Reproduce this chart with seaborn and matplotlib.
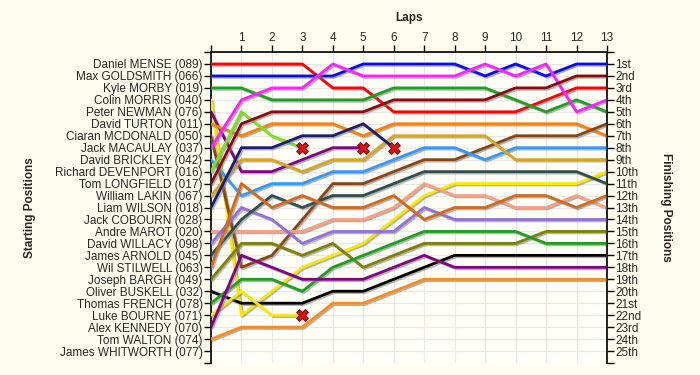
import numpy as np
import pandas as pd
import matplotlib
matplotlib.use("Agg")
import matplotlib.pyplot as plt
import matplotlib.patheffects as pe
import seaborn as sns

# --- Data: starting grid (position order) ---
starters = [
    "Daniel MENSE (089)", "Max GOLDSMITH (066)", "Kyle MORBY (019)", "Colin MORRIS (040)",
    "Peter NEWMAN (076)", "David TURTON (011)", "Ciaran MCDONALD (050)", "Jack MACAULAY (037)",
    "David BRICKLEY (042)", "Richard DEVENPORT (016)", "Tom LONGFIELD (017)", "William LAKIN (067)",
    "Liam WILSON (018)", "Jack COBOURN (028)", "Andre MAROT (020)", "David WILLACY (098)",
    "James ARNOLD (045)", "Wil STILWELL (063)", "Joseph BARGH (049)", "Oliver BUSKELL (032)",
    "Thomas FRENCH (078)", "Luke BOURNE (071)", "Alex KENNEDY (070)", "Tom WALTON (074)",
    "James WHITWORTH (077)",
]

laps = list(range(0, 14))
finish_labels = ["1st", "2nd", "3rd"] + [f"{i}th" for i in range(4, 21)] + ["21st", "22nd", "23rd", "24th", "25th"]

# positions at end of each lap (lap 0 = grid); shorter list = retired
pos_mense = [1, 1, 1, 1, 3, 3, 5, 5, 5, 5, 5, 4, 3, 3]
pos_goldsmith = [2, 2, 2, 2, 2, 1, 1, 1, 1, 2, 1, 2, 1, 1]
pos_morby = [3, 3, 4, 4, 4, 4, 3, 3, 3, 3, 4, 5, 4, 5]
pos_morris = [4, 22, 20, 18, 17, 16, 14, 12, 11, 11, 11, 11, 11, 10]
pos_newman = [5, 10, 10, 9, 8, 8]
pos_turton = [6, 7, 6, 6, 6, 7, 6, 6, 6, 6, 6, 6, 6, 7]
pos_mcdonald = [7, 18, 17, 14, 11, 11, 10, 9, 9, 8, 7, 7, 7, 6]
pos_macaulay = [8, 4, 3, 3, 1, 2, 2, 2, 2, 1, 2, 1, 5, 4]
pos_brickley = [9, 12, 11, 11, 10, 10, 9, 8, 8, 9, 8, 8, 8, 8]
pos_devenport = [10, 5, 7, 8]
pos_longfield = [11, 6, 5, 5, 5, 5, 4, 4, 4, 4, 3, 3, 2, 2]
pos_lakin = [12, 9, 9, 10, 9, 9, 7, 7, 7, 7, 9, 9, 9, 9]
pos_wilson = [13, 8, 8, 7, 7, 6, 8]
pos_marot = [15, 15, 15, 15, 14, 14, 13, 11, 12, 12, 13, 13, 12, 13]
pos_willacy = [16, 13, 14, 16, 15, 15, 15, 13, 14, 14, 14, 14, 14, 14]
pos_arnold = [17, 14, 12, 13, 12, 12, 11, 10, 10, 10, 10, 10, 10, 11]
pos_stilwell = [18, 11, 13, 12, 13, 13, 12, 14, 13, 13, 12, 12, 13, 12]
pos_bargh = [19, 16, 16, 17, 16, 18, 17, 16, 16, 16, 16, 15, 15, 15]
pos_buskell = [20, 21, 21, 21, 20, 20, 19, 18, 17, 17, 17, 17, 17, 17]
pos_french = [21, 19, 19, 20, 18, 17, 16, 15, 15, 15, 15, 16, 16, 16]
pos_bourne = [22, 20, 22, 22]
pos_kennedy = [23, 17, 18, 19, 19, 19, 18, 17, 18, 18, 18, 18, 18, 18]
pos_walton = [24, 23, 23, 23, 21, 21, 20, 19, 19, 19, 19, 19, 19, 19]

series = {
    "Daniel MENSE (089)": (pos_mense, "#ff0000"),
    "Max GOLDSMITH (066)": (pos_goldsmith, "#0a0af0"),
    "Kyle MORBY (019)": (pos_morby, "#1f9f1f"),
    "Colin MORRIS (040)": (pos_morris, "#ffe800"),
    "Peter NEWMAN (076)": (pos_newman, "#800080"),
    "David TURTON (011)": (pos_turton, "#ff8000"),
    "Ciaran MCDONALD (050)": (pos_mcdonald, "#8b4513"),
    "Jack MACAULAY (037)": (pos_macaulay, "#ff22ff"),
    "David BRICKLEY (042)": (pos_brickley, "#3399ff"),
    "Richard DEVENPORT (016)": (pos_devenport, "#80e020"),
    "Tom LONGFIELD (017)": (pos_longfield, "#8b0a0a"),
    "William LAKIN (067)": (pos_lakin, "#daa520"),
    "Liam WILSON (018)": (pos_wilson, "#1c1c70"),
    "Andre MAROT (020)": (pos_marot, "#f8a080"),
    "David WILLACY (098)": (pos_willacy, "#9370db"),
    "James ARNOLD (045)": (pos_arnold, "#2f4f4f"),
    "Wil STILWELL (063)": (pos_stilwell, "#d2691e"),
    "Joseph BARGH (049)": (pos_bargh, "#808000"),
    "Oliver BUSKELL (032)": (pos_buskell, "#000000"),
    "Thomas FRENCH (078)": (pos_french, "#1f9f1f"),
    "Luke BOURNE (071)": (pos_bourne, "#ffe800"),
    "Alex KENNEDY (070)": (pos_kennedy, "#800080"),
    "Tom WALTON (074)": (pos_walton, "#ff8c1a"),
}

# long-form table for seaborn
rows = []
for name, (pos, _) in series.items():
    for lap, p in zip(laps, pos):
        rows.append({"driver": name, "lap": lap, "position": p})
df = pd.DataFrame(rows)
palette = {name: c for name, (_, c) in series.items()}

# retirements = last point of a short series
retired = df[df["driver"].isin([n for n, (p, _) in series.items() if len(p) < len(laps)])]
retired = retired.loc[retired.groupby("driver")["lap"].idxmax()]

# --- Plot ---
sns.set_style("white")
plt.rcParams["font.family"] = ["Liberation Sans", "DejaVu Sans"]

bg = "#fffdf0"
fig = plt.figure(figsize=(7, 3.75), dpi=100, facecolor=bg)
ax = fig.add_axes([0.3014, 0.032, 0.5657, 0.8293])
ax.set_facecolor("#fffff8")

sns.lineplot(data=df, x="lap", y="position", hue="driver", palette=palette,
             estimator=None, sort=False, linewidth=2.0, legend=False, ax=ax, zorder=3)
for ln in ax.lines:
    ln.set_path_effects([pe.SimpleLineShadow(offset=(1, -1), shadow_color="gray", alpha=0.6),
                         pe.Normal()])

sns.scatterplot(data=retired, x="lap", y="position", marker="X", s=70, color="#e01010",
                edgecolor="#701010", linewidth=0.8, ax=ax, zorder=5, legend=False)

n = len(starters)
ax.set_xlim(0, 13)
ax.set_ylim(n + 1, 0)

ax.set_yticks(range(0, n + 2))
ax.set_yticklabels([""] + starters + [""], fontsize=8.5)
ax.xaxis.tick_top()
ax.set_xticks(range(0, 14))
ax.set_xticklabels([""] + [str(i) for i in range(1, 14)], fontsize=8.5)
ax.tick_params(axis="both", direction="out", length=5, width=1, color="black", pad=1)
ax.set_xlabel("Laps", fontsize=8.5, fontweight="bold", labelpad=8)
ax.xaxis.set_label_position("top")
ax.set_ylabel("Starting Positions", fontsize=8.5, fontweight="bold", labelpad=14)

ax.grid(True, color="#e8e8e8", linewidth=0.8, zorder=0)
ax.set_axisbelow(True)
for s in ["top", "left", "right"]:
    ax.spines[s].set_color("black")
    ax.spines[s].set_linewidth(1.2)
ax.spines["bottom"].set_visible(False)

ax2 = ax.twinx()
ax2.set_ylim(n + 1, 0)
ax2.set_yticks(range(0, n + 2))
ax2.set_yticklabels([""] + finish_labels + [""], fontsize=8.5)
ax2.tick_params(axis="y", direction="out", length=5, width=1, color="black", pad=1)
ax2.set_ylabel("Finishing Positions", fontsize=8.5, fontweight="bold", rotation=270, labelpad=22)
for s in ["top", "bottom", "left"]:
    ax2.spines[s].set_visible(False)
ax2.spines["right"].set_linewidth(1.2)

fig.savefig("out.png", dpi=100, facecolor=bg)
